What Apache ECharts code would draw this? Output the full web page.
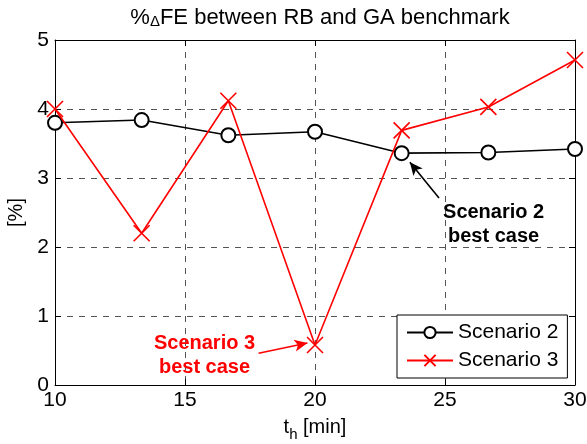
<!DOCTYPE html>
<html><head><meta charset="utf-8">
<script src="https://cdn.jsdelivr.net/npm/echarts@6/dist/echarts.min.js"></script>
<style>html,body{margin:0;padding:0;background:#fff}#c{width:587px;height:444px}</style>
</head><body><div id="c"></div>
<script>
const xValues = [10, 13.333, 16.667, 20, 23.333, 26.667, 30];
const scenario2 = [3.80, 3.84, 3.62, 3.67, 3.36, 3.37, 3.42];
const scenario3 = [4.00, 2.20, 4.12, 0.58, 3.69, 4.03, 4.71];
const xTicks = [10, 15, 20, 25, 30];
const yTicks = [0, 1, 2, 3, 4, 5];
const FONT = 'Liberation Sans, Arial, sans-serif';
const crossPath = 'path://M0,0L10,10M10,0L0,10';

const chart = echarts.init(document.getElementById('c'), null, {renderer: 'canvas'});
const axisCommon = {
  type: 'value',
  axisLine: {show: true, onZero: false, lineStyle: {color: '#000', width: 1}},
  axisTick: {show: true, inside: true, length: 6, lineStyle: {color: '#000'}},
  axisLabel: {color: '#000', fontSize: 21, fontFamily: FONT},
  splitLine: {show: false}
};
chart.setOption({
  animation: false,
  backgroundColor: '#fff',
  title: {
    text: '%{d|Δ}FE between RB and GA benchmark',
    left: 315, top: 2, textAlign: 'center',
    textStyle: {fontSize: 22, fontWeight: 'normal', color: '#000', fontFamily: FONT,
      rich: {d: {fontSize: 15, fontFamily: FONT, color: '#000', padding: [7, 0, 0, 0]}}}
  },
  grid: {left: 55, right: 12, top: 40, bottom: 59, containLabel: false, outerBoundsMode: 'none'},
  legend: {
    orient: 'vertical', left: 397, top: 315,
    padding: [7, 9, 7, 9], itemGap: 7,
    itemWidth: 46, itemHeight: 14,
    backgroundColor: '#fff', borderColor: '#000', borderWidth: 1,
    textStyle: {fontSize: 21, color: '#000', fontFamily: FONT},
    data: ['Scenario 2', 'Scenario 3']
  },
  xAxis: [
    Object.assign({}, axisCommon, {
      min: 10, max: 30, interval: 5, position: 'bottom',
      axisLabel: Object.assign({}, axisCommon.axisLabel, {margin: 5, formatter: v => xTicks.includes(v) ? String(v) : ''}),
      splitLine: {show: true, lineStyle: {color: '#555', type: [6, 6], width: 1}},
      name: 't{s|h} [min]', nameLocation: 'middle', nameGap: 28,
      nameTextStyle: {fontSize: 20, color: '#000', fontFamily: FONT,
        rich: {s: {fontSize: 15, color: '#000', fontFamily: FONT, padding: [14, 0, 0, 0]}}}
    }),
    Object.assign({}, axisCommon, {
      min: 10, max: 30, interval: 5, position: 'top',
      axisLabel: {show: false}
    })
  ],
  yAxis: [
    Object.assign({}, axisCommon, {
      min: 0, max: 5, interval: 1, position: 'left',
      axisLabel: Object.assign({}, axisCommon.axisLabel, {margin: 6, formatter: v => yTicks.includes(v) ? String(v) : ''}),
      splitLine: {show: true, lineStyle: {color: '#555', type: [6, 6], width: 1}},
      name: '[%]', nameLocation: 'middle', nameGap: 27, nameRotate: 90,
      nameTextStyle: {fontSize: 20, color: '#000', fontFamily: FONT}
    }),
    Object.assign({}, axisCommon, {
      min: 0, max: 5, interval: 1, position: 'right',
      axisLabel: {show: false}
    })
  ],
  series: [
    {
      name: 'Scenario 2', type: 'line',
      data: xValues.map((x, i) => [x, scenario2[i]]),
      symbol: 'emptyCircle', symbolSize: 14,
      lineStyle: {color: '#000', width: 1.6},
      itemStyle: {color: '#000', borderColor: '#000', borderWidth: 1.6},
      z: 3,
      markLine: {
        silent: true, symbol: ['none', 'arrow'], symbolSize: [9, 13],
        lineStyle: {color: '#000', width: 1.6, type: 'solid'},
        label: {show: false},
        data: [[{coord: [24.77, 2.71]}, {coord: [23.65, 3.23]}]]
      },
      markPoint: {
        silent: true, symbol: 'circle', symbolSize: 1,
        itemStyle: {color: 'rgba(0,0,0,0)'},
        label: {show: true, position: 'inside', formatter: 'Scenario 2\nbest case',
          fontSize: 20, fontWeight: 'bold', color: '#000', fontFamily: FONT, lineHeight: 24, align: 'center'},
        data: [{coord: [26.87, 2.33]}]
      }
    },
    {
      name: 'Scenario 3', type: 'line',
      data: xValues.map((x, i) => [x, scenario3[i]]),
      symbol: crossPath, symbolSize: 16, symbolKeepAspect: true,
      lineStyle: {color: '#f00', width: 1.6},
      itemStyle: {color: '#f00', borderColor: '#f00', borderWidth: 1.6},
      z: 4,
      markLine: {
        silent: true, symbol: ['none', 'arrow'], symbolSize: [9, 13],
        lineStyle: {color: '#f00', width: 1.6, type: 'solid'},
        label: {show: false},
        data: [[{coord: [17.83, 0.46]}, {coord: [19.71, 0.61]}]]
      },
      markPoint: {
        silent: true, symbol: 'circle', symbolSize: 1,
        itemStyle: {color: 'rgba(0,0,0,0)'},
        label: {show: true, position: 'inside', formatter: 'Scenario 3\nbest case',
          fontSize: 20, fontWeight: 'bold', color: '#f00', fontFamily: FONT, lineHeight: 24, align: 'center'},
        data: [{coord: [15.75, 0.435]}]
      }
    }
  ]
});
</script></body></html>
